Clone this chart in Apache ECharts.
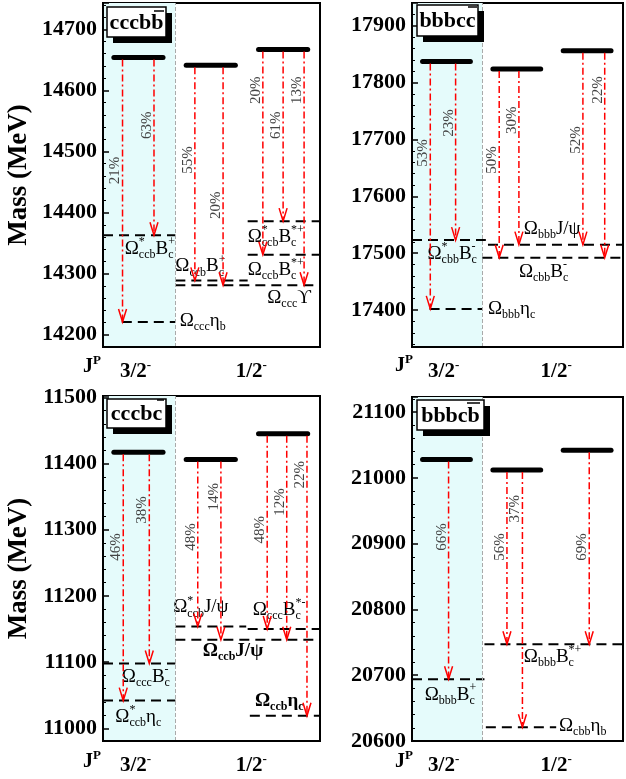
<!DOCTYPE html>
<html>
<head>
<meta charset="utf-8">
<script src="https://cdn.jsdelivr.net/npm/echarts@6/dist/echarts.min.js"></script>
<style>
html, body { margin: 0; padding: 0; background: #fff; }
#main { width: 626px; height: 779px; }
</style>
</head>
<body>
<div id="main"></div>
<script>
var serif = '"Liberation Serif", "Times New Roman", serif'

// J^P column labels (x axis ticks)
var jpLabels = ['3/2{m|-}', '1/2{m|-}']
var jpLabelAt = [0.45, 2.05]

// threshold names: {sup|sub} is a stacked super/subscript pair
// cccb bbar
var aRange = [14180, 14743]
var aLevels = [14654, 14641, 14667]
var aThrMass = [14363, 14221, 14289, 14281, 14386, 14331]
var aThrName = ['Ω{*|ccb}B{+|c}', 'Ω{|ccc}η{|b}', 'Ω{|ccb}B{+|c}', 'Ω{|ccc}ϒ', 'Ω{*|ccb}B{*+|c}', 'Ω{|ccb}B{*+|c}']
var aThrBold = [false, false, false, false, false, false]
var aDecays = [[0, 1, '21%'], [0, 0, '63%'], [1, 2, '55%'], [1, 3, '20%'], [2, 5, '20%'], [2, 4, '61%'], [2, 3, '13%']]

// bbbc cbar
var bRange = [17335, 17940]
var bLevels = [17837, 17824, 17856]
var bThrMass = [17523, 17402, 17515, 17492]
var bThrName = ['Ω{*|cbb}B{-|c}', 'Ω{|bbb}η{|c}', 'Ω{|bbb}J/ψ', 'Ω{|cbb}B{-|c}']
var bThrBold = [false, false, false, false]
var bDecays = [[0, 1, '53%'], [0, 0, '23%'], [1, 3, '50%'], [1, 2, '30%'], [2, 2, '52%'], [2, 3, '22%']]

// cccb cbar
var cRange = [10981, 11502]
var cLevels = [11417, 11406, 11445]
var cThrMass = [11098, 11042, 11154, 11150, 11134, 11019]
var cThrName = ['Ω{|ccc}B{-|c}', 'Ω{*|ccb}η{|c}', 'Ω{*|ccb}J/ψ', 'Ω{|ccc}B{*-|c}', 'Ω{|ccb}J/ψ', 'Ω{|ccb}η{|c}']
var cThrBold = [false, false, false, false, true, true]
var cDecays = [[0, 1, '46%'], [0, 0, '38%'], [1, 2, '48%'], [1, 4, '14%'], [2, 3, '48%'], [2, 4, '12%'], [2, 5, '22%']]

// bbbc bbar
var dRange = [20600, 21123]
var dLevels = [21028, 21012, 21042]
var dThrMass = [20694, 20747, 20621]
var dThrName = ['Ω{|bbb}B{+|c}', 'Ω{|bbb}B{*+|c}', 'Ω{|cbb}η{|b}']
var dThrBold = [false, false, false]
var dDecays = [[0, 0, '66%'], [1, 1, '56%'], [1, 2, '37%'], [2, 1, '69%']]

// layout: threshold spans, label anchors [x, dy px], arrow x, percent label mass
var aLay = {
  span: [[0, 1], [0.26, 1], [1, 2], [1, 3], [2, 3], [2, 3]],
  label: [[0.30, 14], [1.06, -1], [1.0, -14], [2.27, 13], [2.0, 16], [2.0, 15]],
  arrowX: [0.27, 0.705, 1.27, 1.66, 2.21, 2.49, 2.78],
  pctAt: [14469, 14543, 14486, 14412, 14600, 14543, 14600]
}
var bLay = {
  span: [[0, 1.05], [0.25, 1], [1.08, 3], [1, 3]],
  label: [[0.22, 14], [1.08, 0], [1.59, -16], [1.52, 14]],
  arrowX: [0.26, 0.62, 1.24, 1.52, 2.43, 2.74],
  pctAt: [17676, 17729, 17664, 17734, 17699, 17787]
}
var cLay = {
  span: [[0, 1], [0, 1], [1, 1.98], [2, 3], [1, 3], [2.03, 3]],
  label: [[0.26, 13], [0.17, 16], [0.97, -19], [2.07, -19], [1.38, 11], [2.1, -15]],
  arrowX: [0.28, 0.64, 1.31, 1.63, 2.27, 2.54, 2.82],
  pctAt: [11274, 11330, 11289, 11350, 11300, 11342, 11383]
}
var dLay = {
  span: [[0, 1.03], [1.03, 3], [1.05, 2.05]],
  label: [[0.18, 16], [1.59, 13], [2.09, -1]],
  arrowX: [0.52, 1.35, 1.57, 2.52],
  pctAt: [20910, 20895, 20953, 20895]
}

var panels = [
  {range: aRange, levels: aLevels, thrMass: aThrMass, thrName: aThrName, thrBold: aThrBold, decays: aDecays, lay: aLay},
  {range: bRange, levels: bLevels, thrMass: bThrMass, thrName: bThrName, thrBold: bThrBold, decays: bDecays, lay: bLay},
  {range: cRange, levels: cLevels, thrMass: cThrMass, thrName: cThrName, thrBold: cThrBold, decays: cDecays, lay: cLay},
  {range: dRange, levels: dLevels, thrMass: dThrMass, thrName: dThrName, thrBold: dThrBold, decays: dDecays, lay: dLay}
]

var grids = [
  {left: 103, top: 3, width: 217, height: 344, show: true, borderColor: '#000', borderWidth: 2},
  {left: 412, top: 3, width: 217, height: 344, show: true, borderColor: '#000', borderWidth: 2},
  {left: 103, top: 396, width: 217, height: 345, show: true, borderColor: '#000', borderWidth: 2},
  {left: 412, top: 397, width: 217, height: 344, show: true, borderColor: '#000', borderWidth: 2}
]

var measureCtx = document.createElement('canvas').getContext('2d')
function textW(s, size, bold) {
  if (!s) return 0
  measureCtx.font = (bold ? 'bold ' : '') + size + 'px ' + serif
  return measureCtx.measureText(s).width
}
function txt(s, x, y, size, bold) {
  return {type: 'text', x: x, y: y,
    style: {text: s, fontSize: size, fontWeight: bold ? 'bold' : 'normal', fontFamily: serif,
      fill: '#000', align: 'left', verticalAlign: 'middle'}}
}
// lay out a name like 'Ω{*|ccb}B{+|c}' piece by piece
function labelEls(str, x, y, bold) {
  var els = [], re = /\{([^|}]*)\|([^}]*)\}|([^{]+)/g, mt
  while ((mt = re.exec(str))) {
    if (mt[3]) {
      els.push(txt(mt[3], x, y, 19, bold))
      x += textW(mt[3], 19, bold)
    } else {
      if (mt[1]) els.push(txt(mt[1], x, y - 7, 12, bold))
      if (mt[2]) els.push(txt(mt[2], x, y + 6, 12, bold))
      x += Math.max(textW(mt[1], 12, bold), textW(mt[2], 12, bold))
    }
  }
  return els
}

function levelItem(params, api) {
  var a = api.coord([api.value(0), api.value(2)])
  var b = api.coord([api.value(1), api.value(2)])
  return {type: 'line', shape: {x1: a[0], y1: a[1], x2: b[0], y2: b[1]},
    style: {stroke: '#000', lineWidth: 5, lineCap: 'round'}}
}

function thrItem(p) {
  return function (params, api) {
    var k = params.dataIndex
    var m = p.thrMass[k], lb = p.lay.label[k]
    var a = api.coord([api.value(0), m])
    var b = api.coord([api.value(1), m])
    var t = api.coord([lb[0], m])
    return {type: 'group', children: [
      {type: 'line', shape: {x1: a[0], y1: a[1], x2: b[0], y2: b[1]},
        style: {stroke: '#000', lineWidth: 2, lineDash: [10, 6]}}
    ].concat(labelEls(p.thrName[k], t[0], t[1] + lb[1], p.thrBold[k]))}
  }
}

function decayItem(p) {
  return function (params, api) {
    var k = params.dataIndex
    var x = api.value(0)
    var s = api.coord([x, api.value(1)])
    var e = api.coord([x, api.value(2)])
    var c = api.coord([x, p.lay.pctAt[k]])
    return {type: 'group', children: [
      {type: 'line', shape: {x1: s[0], y1: s[1] + 2, x2: e[0], y2: e[1]},
        style: {stroke: '#ff0000', lineWidth: 1.5, lineDash: [7, 3, 2, 3]}},
      {type: 'polyline', shape: {points: [[e[0] - 4, e[1] - 13], [e[0], e[1]], [e[0] + 4, e[1] - 13]]},
        style: {stroke: '#ff0000', lineWidth: 1.5, fill: null}},
      {type: 'text', x: c[0] - 7, y: c[1], rotation: Math.PI / 2,
        style: {text: p.decays[k][2], fontSize: 15, fontFamily: serif, fill: '#444',
          align: 'center', verticalAlign: 'middle'}}
    ]}
  }
}

var xAxes = [], yAxes = [], series = []
panels.forEach(function (p, i) {
  xAxes.push({
    gridIndex: i, type: 'value', min: 0, max: 3, interval: 0.05, z: 10,
    axisLine: {show: true, onZero: false, lineStyle: {color: '#000', width: 2}},
    axisTick: {show: false}, splitLine: {show: false},
    axisLabel: {
      margin: 12, fontFamily: serif, fontWeight: 'bold', fontSize: 21, color: '#000', lineHeight: 26,
      formatter: function (v) {
        for (var j = 0; j < jpLabelAt.length; j++) {
          if (Math.abs(v - jpLabelAt[j]) < 0.01) return jpLabels[j]
        }
        return ''
      },
      rich: {m: {fontSize: 13, fontWeight: 'bold', fontFamily: serif, color: '#000', verticalAlign: 'top'}}
    }
  })
  yAxes.push({
    gridIndex: i, type: 'value', min: p.range[0], max: p.range[1], minInterval: 100, maxInterval: 100, z: 10,
    axisLine: {show: true, lineStyle: {color: '#000', width: 2}},
    axisTick: {inside: true, length: 6, lineStyle: {color: '#000', width: 1.5}},
    minorTick: {show: true, splitNumber: 5, length: 3, lineStyle: {color: '#000', width: 1}},
    splitLine: {show: false},
    axisLabel: {
      margin: 6, fontFamily: serif, fontWeight: 'bold', fontSize: 22, color: '#000',
      formatter: function (v) { return v % 100 === 0 ? String(v) : '' }
    },
    name: i % 2 === 0 ? 'Mass (MeV)' : '',
    nameLocation: 'middle', nameGap: 70,
    nameTextStyle: {fontFamily: serif, fontWeight: 'bold', fontSize: 27, color: '#000'}
  })
  series.push({
    type: 'custom', xAxisIndex: i, yAxisIndex: i, renderItem: levelItem,
    encode: {x: [0, 1], y: 2},
    data: p.levels.map(function (m, col) { return [col + 0.15, col + 0.83, m] }),
    markArea: {silent: true, itemStyle: {color: '#e5fbfb'}, data: [[{xAxis: 0}, {xAxis: 1}]]},
    markLine: {silent: true, symbol: 'none', label: {show: false},
      lineStyle: {color: '#aaaaaa', type: 'dashed', width: 1}, data: [{xAxis: 1}]},
    z: 3
  })
  series.push({
    type: 'custom', xAxisIndex: i, yAxisIndex: i, renderItem: thrItem(p),
    encode: {x: [0, 1], y: 2},
    data: p.thrMass.map(function (m, k) { return [p.lay.span[k][0], p.lay.span[k][1], m] }),
    z: 4
  })
  series.push({
    type: 'custom', xAxisIndex: i, yAxisIndex: i, renderItem: decayItem(p),
    encode: {x: 0, y: [1, 2]},
    data: p.decays.map(function (d, k) { return [p.lay.arrowX[k], p.levels[d[0]], p.thrMass[d[1]]] }),
    z: 5
  })
})

function box(x, y, w, h, label, ol) {
  return [
    {type: 'rect', z: 100, shape: {x: x + 6, y: y + 6, width: w, height: h}, style: {fill: '#000'}},
    {type: 'rect', z: 101, shape: {x: x, y: y, width: w, height: h}, style: {fill: '#fff', stroke: '#000', lineWidth: 1.5}},
    {type: 'text', z: 102, x: x + w / 2, y: y + h / 2 + 1,
      style: {text: label, fontSize: 22, fontWeight: 'bold', fontFamily: serif, fill: '#000', align: 'center', verticalAlign: 'middle'}},
    {type: 'line', z: 102, shape: {x1: ol[0], y1: ol[2], x2: ol[1], y2: ol[2]}, style: {stroke: '#000', lineWidth: 1.5}}
  ]
}

function jp(x, y) {
  return {type: 'text', z: 102, x: x, y: y,
    style: {text: 'J{p|P}', fontSize: 20, fontWeight: 'bold', fontFamily: serif, fill: '#000',
      align: 'center', verticalAlign: 'middle', lineHeight: 26,
      rich: {p: {fontSize: 13, fontWeight: 'bold', fontFamily: serif, fill: '#000', verticalAlign: 'top'}}}}
}

var graphics = []
  .concat(box(107, 7, 59, 30, 'cccbb', [154, 164, 11]))
  .concat(box(417, 5, 61, 31, 'bbbcc', [468, 477, 7]))
  .concat(box(107, 399, 59, 29, 'cccbc', [157, 164, 400]))
  .concat(box(417, 400, 67, 30, 'bbbcb', [467, 480, 403]))
  .concat([jp(92, 367), jp(404, 366), jp(92, 762), jp(404, 762)])

var chart = echarts.init(document.getElementById('main'))
chart.setOption({
  animation: false,
  backgroundColor: '#fff',
  grid: grids,
  xAxis: xAxes,
  yAxis: yAxes,
  series: series,
  graphic: graphics
})
</script>
</body>
</html>
